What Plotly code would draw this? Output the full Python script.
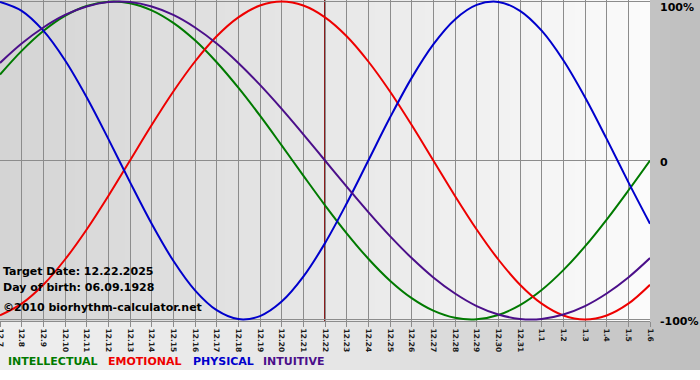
import plotly.graph_objects as go

# ---- data ----
day_labels = ["12.7", "12.8", "12.9", "12.10", "12.11", "12.12", "12.13", "12.14", "12.15",
              "12.16", "12.17", "12.18", "12.19", "12.20", "12.21", "12.22", "12.23", "12.24",
              "12.25", "12.26", "12.27", "12.28", "12.29", "12.30", "12.31", "1.1", "1.2",
              "1.3", "1.4", "1.5", "1.6"]
target_label = "12.22"

physical = [0.998, 0.942, 0.817, 0.631, 0.398, 0.136, -0.136, -0.398, -0.631, -0.817,
            -0.942, -0.998, -0.979, -0.888, -0.731, -0.520, -0.270, 0.0, 0.270, 0.520,
            0.731, 0.888, 0.979, 0.998, 0.942, 0.817, 0.631, 0.398, 0.136, -0.136, -0.398]
emotional = [-0.975, -0.901, -0.782, -0.623, -0.434, -0.223, 0.0, 0.223, 0.434, 0.623,
             0.782, 0.901, 0.975, 1.0, 0.975, 0.901, 0.782, 0.623, 0.434, 0.223,
             0.0, -0.223, -0.434, -0.623, -0.782, -0.901, -0.975, -1.0, -0.975, -0.901, -0.782]
intellectual = [0.541, 0.690, 0.815, 0.910, 0.972, 0.999, 0.990, 0.945, 0.866, 0.756,
                0.618, 0.458, 0.282, 0.095, -0.095, -0.282, -0.458, -0.618, -0.756, -0.866,
                -0.945, -0.990, -0.999, -0.972, -0.910, -0.815, -0.690, -0.541, -0.372, -0.189, 0.0]
intuitive = [0.614, 0.736, 0.837, 0.916, 0.969, 0.997, 0.997, 0.969, 0.916, 0.837,
             0.736, 0.614, 0.476, 0.325, 0.165, 0.0, -0.165, -0.325, -0.476, -0.614,
             -0.736, -0.837, -0.916, -0.969, -0.997, -0.997, -0.969, -0.916, -0.837, -0.736, -0.614]

y_tick_vals = [1, 0, -1]
y_tick_text = ["100%", "0", "-100%"]

info_lines = ["Target Date: 12.22.2025", "Day of birth: 06.09.1928", "\u00a92010 biorhythm-calculator.net"]
legend_names = ["INTELLECTUAL", "EMOTIONAL", "PHYSICAL", "INTUITIVE"]

# ---- styling ----
W, H = 700, 380
ML, MR, MT, MB = 0, 50, 0, 59
PW, PH = W - ML - MR, H - MT - MB
FONT = "DejaVu Sans"
COL = {"INTELLECTUAL": "#007a00", "EMOTIONAL": "#ee0000", "PHYSICAL": "#0000cc", "INTUITIVE": "#4b0f8a"}
GRID = "#8c8c8c"

def px_x(x):
    return (x - ML) / PW

def px_y(y):
    return (H - MB - y) / PH

xs = list(range(len(day_labels)))
fig = go.Figure()

series = [("INTELLECTUAL", intellectual), ("EMOTIONAL", emotional),
          ("PHYSICAL", physical), ("INTUITIVE", intuitive)]
for name, vals in series:
    fig.add_trace(go.Scatter(x=xs, y=vals, mode="lines", name=name,
                             line=dict(color=COL[name], width=2, shape="spline", smoothing=1.0),
                             hoverinfo="skip", showlegend=False))

shapes = []
# outer background gradient
step = 10
for x0 in range(0, W, step):
    xc = x0 + step / 2
    if xc < 350:
        g = 238 - 8 * xc / 350
    else:
        g = 230 - 40 * (xc - 350) / 350
    g = int(round(g))
    shapes.append(dict(type="rect", xref="paper", yref="paper", layer="below",
                       x0=px_x(x0), x1=px_x(x0 + step + 0.5), y0=px_y(370), y1=px_y(0),
                       line=dict(width=0), fillcolor=f"rgb({g},{g},{g})"))
# plot-area gradient
for x0 in range(0, PW, 5):
    xc = x0 + 2.5
    g = int(round(212 + 39 * xc / PW))
    shapes.append(dict(type="rect", xref="paper", yref="paper", layer="below",
                       x0=x0 / PW, x1=min(1, (x0 + 5.5) / PW), y0=0, y1=1,
                       line=dict(width=0), fillcolor=f"rgb({g},{g},{g})"))
# target date line
ti = day_labels.index(target_label)
shapes.append(dict(type="line", xref="x", yref="paper", layer="between",
                   x0=ti, x1=ti, y0=0, y1=1, line=dict(color="#8b1c1c", width=2)))

annotations = []
for t, ypx in zip(y_tick_text, [7, 162, 322]):
    annotations.append(dict(xref="paper", yref="paper", x=px_x(658), y=px_y(ypx),
                            xanchor="left", yanchor="middle", text="<b>" + t + "</b>",
                            showarrow=False, font=dict(family=FONT, size=11, color="#000000")))
for t, ypx in zip(info_lines, [271, 287, 307]):
    annotations.append(dict(xref="paper", yref="paper", x=px_x(1), y=px_y(ypx),
                            xanchor="left", yanchor="middle", text="<b>" + t + "</b>",
                            showarrow=False, font=dict(family=FONT, size=11, color="#000000")))
for name, xpx in zip(legend_names, [6, 106, 191, 261]):
    annotations.append(dict(xref="paper", yref="paper", x=px_x(xpx), y=px_y(362),
                            xanchor="left", yanchor="middle", text="<b>" + name + "</b>",
                            showarrow=False, font=dict(family=FONT, size=11, color=COL[name])))

fig.update_layout(
    width=W, height=H,
    margin=dict(l=ML, r=MR, t=MT, b=MB, pad=0),
    paper_bgcolor="#ffffff",
    plot_bgcolor="rgba(0,0,0,0)",
    showlegend=False,
    shapes=shapes,
    annotations=annotations,
    xaxis=dict(range=[0, len(day_labels) - 1], tickmode="array", tickvals=xs,
               ticktext=["<b>" + d + "</b>" for d in day_labels],
               tickangle=90, ticks="outside", ticklen=5, tickcolor=GRID, tickwidth=1,
               showgrid=True, gridcolor=GRID, gridwidth=1, zeroline=False,
               showline=True, linecolor=GRID, linewidth=1, automargin=False,
               ticklabeloverflow="allow",
               tickfont=dict(family=FONT, size=7.5, color="#1a1a1a"), fixedrange=True),
    yaxis=dict(range=[-1.01, 1.01], tickmode="array", tickvals=y_tick_vals, showticklabels=False,
               showgrid=True, gridcolor=GRID, gridwidth=1, zeroline=False, ticks="",
               showline=False, fixedrange=True, automargin=False),
)

fig.write_html("out.html", config={"displayModeBar": False},
               post_script="document.body.style.margin='0';document.body.style.padding='0';")
